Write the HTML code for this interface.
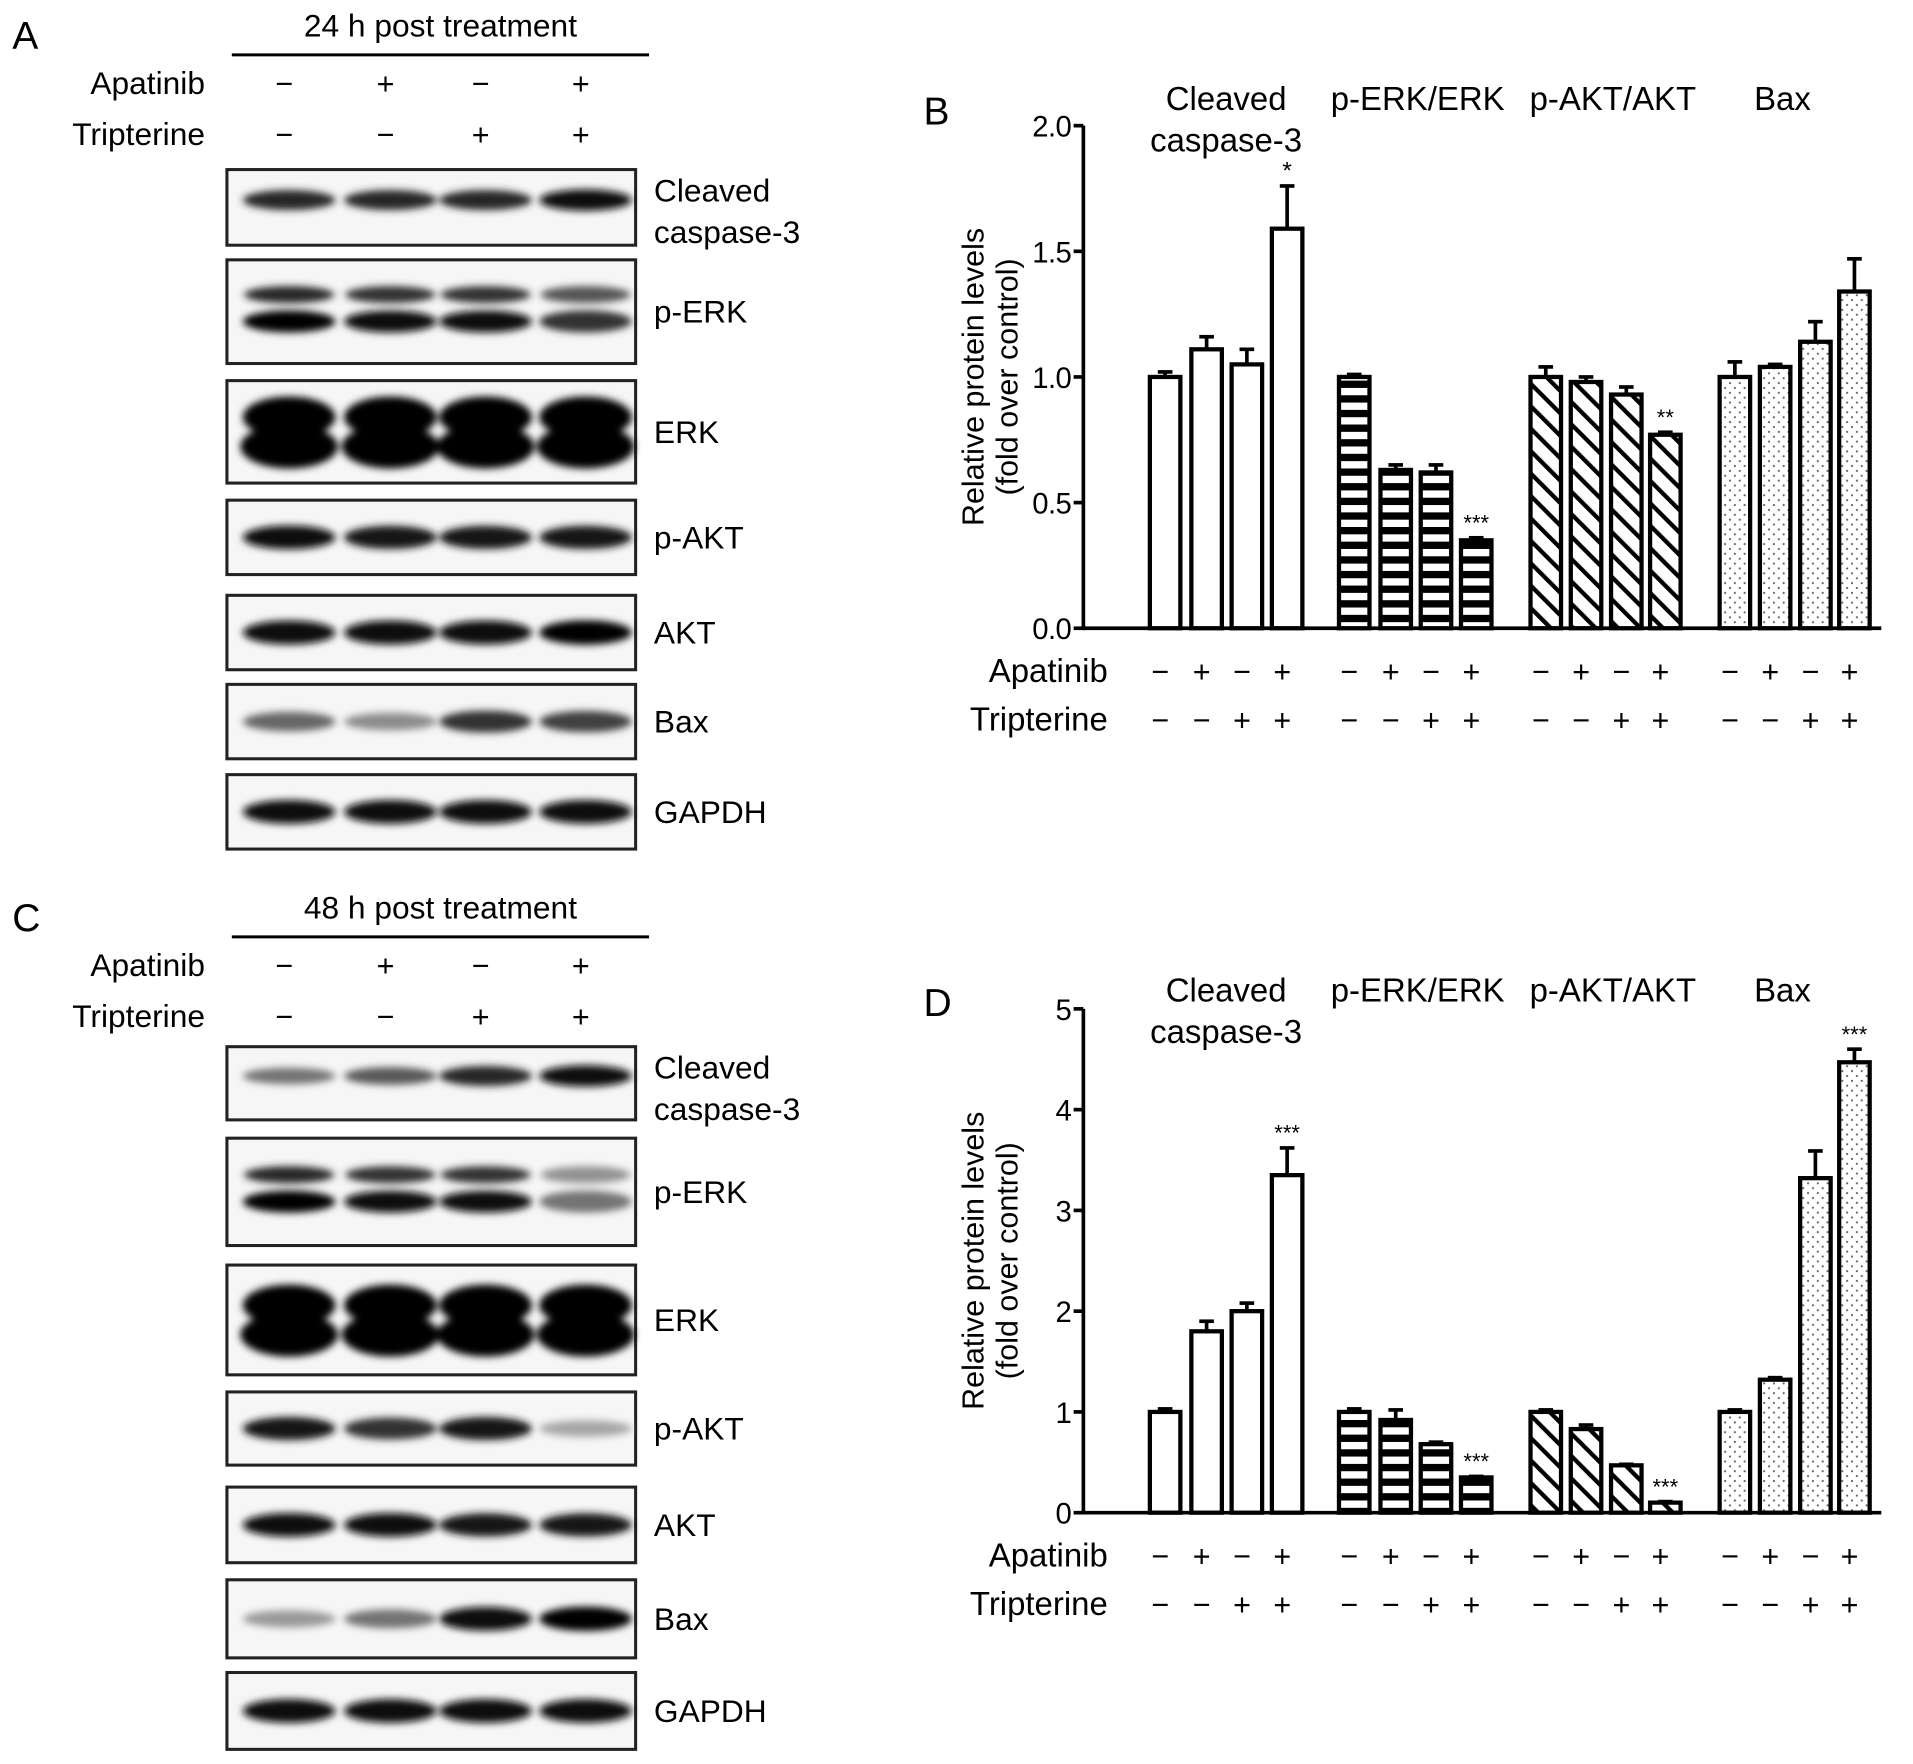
<!DOCTYPE html>
<html><head><meta charset="utf-8"><style>
html,body{margin:0;padding:0;background:#fff;}
svg{display:block;font-family:"Liberation Sans",sans-serif;}
</style></head><body>
<svg id="fig" width="1913" height="1764" viewBox="0 0 1568 1446" preserveAspectRatio="none" xmlns="http://www.w3.org/2000/svg">
<defs>
<filter id="blur" x="-20%" y="-50%" width="140%" height="200%"><feGaussianBlur stdDeviation="3"/></filter>
<pattern id="pStripe" patternUnits="userSpaceOnUse" width="10" height="12"><rect width="10" height="12" fill="#fff"/><rect y="0" width="10" height="6" fill="#000"/></pattern>
<pattern id="pDiag" patternUnits="userSpaceOnUse" width="13" height="13" patternTransform="rotate(-45)"><rect width="13" height="13" fill="#fff"/><rect x="0" width="3.5" height="13" fill="#000"/></pattern>
<pattern id="pDot" patternUnits="userSpaceOnUse" width="8" height="8"><rect width="8" height="8" fill="#fff"/><circle cx="2" cy="2" r="0.9" fill="#666"/><circle cx="6" cy="6" r="0.9" fill="#666"/></pattern>
</defs>
<g id="blots"></g>
<g id="charts"></g>
</svg>
<script>
// ---------- Chart data ----------
const groups = ["Cleaved caspase-3","p-ERK/ERK","p-AKT/AKT","Bax"];
const apatinib = ["−","+","−","+"];
const tripterine = ["−","−","+","+"];
const valuesB = [[1.0,1.11,1.05,1.59],[1.0,0.63,0.62,0.35],[1.0,0.98,0.93,0.77],[1.0,1.04,1.14,1.34]];
const errorsB = [[0.02,0.05,0.06,0.17],[0.01,0.02,0.03,0.01],[0.04,0.02,0.03,0.01],[0.06,0.01,0.08,0.13]];
const starsB = [["","","","*"],["","","","***"],["","","","**"],["","","",""]];
const ticksB = [0,0.5,1.0,1.5,2.0];
const tickLabelsB = ["0.0","0.5","1.0","1.5","2.0"];
const valuesD = [[1.0,1.8,2.0,3.35],[1.0,0.92,0.68,0.35],[1.0,0.83,0.47,0.1],[1.0,1.32,3.32,4.47]];
const errorsD = [[0.03,0.1,0.08,0.27],[0.03,0.1,0.02,0.01],[0.02,0.04,0.01,0.01],[0.02,0.02,0.27,0.13]];
const starsD = [["","","","***"],["","","","***"],["","","","***"],["","","","***"]];
const ticksD = [0,1,2,3,4,5];
const tickLabelsD = ["0","1","2","3","4","5"];
const blotRows = ["Cleaved caspase-3","p-ERK","ERK","p-AKT","AKT","Bax","GAPDH"];
const intensA = [[0.85,0.85,0.85,0.95],[0.9,0.85,0.85,0.7],[1,1,1,1],[0.95,0.9,0.9,0.9],[0.97,0.97,0.97,1],[0.6,0.45,0.8,0.75],[0.95,0.95,0.95,0.95]];
const intensC = [[0.55,0.65,0.85,0.95],[0.9,0.85,0.85,0.45],[1,1,1,1],[0.9,0.8,0.9,0.35],[0.95,0.95,0.9,0.9],[0.4,0.55,0.95,1],[0.95,0.95,0.95,0.95]];

const NS="http://www.w3.org/2000/svg";
function mk(tag,attrs,parent,text){const e=document.createElementNS(NS,tag);for(const k in attrs)e.setAttribute(k,attrs[k]);if(text!==undefined)e.textContent=text;parent.appendChild(e);return e;}
function grayOf(v){const g=Math.round(255*(1-Math.min(1,v)));return `rgb(${g},${g},${g})`;}

const blots=document.getElementById('blots');
const charts=document.getElementById('charts');
const laneX=[237,320,398,480];
function blotPanel(letter,title,oy,rows,intens){
  const g=mk('g',{},blots);
  
  
  const L=mk('text',{x:10,y:oy+40,'font-size':32},g,letter);
  
  
  const t=mk('text',{x:361,y:oy+30,'font-size':26,'text-anchor':'middle'},g,title);
  
  
  mk('line',{x1:190,x2:532,y1:oy+45,y2:oy+45,stroke:'#000','stroke-width':2.5},g);
  const a=mk('text',{x:168,y:oy+77,'font-size':26,'text-anchor':'end'},g,'Apatinib');
  
  const tr=mk('text',{x:168,y:oy+119,'font-size':26,'text-anchor':'end'},g,'Tripterine');
  
  for(let i=0;i<4;i++){
    mk('text',{x:laneX[i]-4,y:oy+77,'font-size':25,'text-anchor':'middle'},g,apatinib[i]);
    mk('text',{x:laneX[i]-4,y:oy+119,'font-size':25,'text-anchor':'middle'},g,tripterine[i]);
  }
  rows.forEach((r,ri)=>{
    const [top,bot]=r;const cy=(top+bot)/2;
    const box=mk('g',{},g);
    
    
    mk('rect',{x:186,y:top,width:335,height:bot-top,fill:'#f6f6f6',stroke:'#222','stroke-width':2.5},box);
    const bg=mk('g',{filter:'url(#blur)'},box);
    for(let i=0;i<4;i++){
      const v=intens[ri][i];
      if(blotRows[ri]==='p-ERK'){
        mk('ellipse',{cx:laneX[i],cy:cy-14,rx:37,ry:7,fill:grayOf(v*0.95)},bg);
        mk('ellipse',{cx:laneX[i],cy:cy+8,rx:38,ry:9,fill:grayOf(Math.min(1,v+0.1))},bg);
      } else if(blotRows[ri]==='ERK'){
        mk('ellipse',{cx:laneX[i],cy:cy-12,rx:38,ry:17,fill:'#000'},bg);
        mk('ellipse',{cx:laneX[i],cy:cy+12,rx:40,ry:18,fill:'#000'},bg);
      } else {
        mk('ellipse',{cx:laneX[i],cy:cy-(ri===0?6:0),rx:38,ry:(ri===0?4:5)+5*v,fill:grayOf(v)},bg);
      }
    }
    const lines=blotRows[ri]==='Cleaved caspase-3'?['Cleaved','caspase-3']:[blotRows[ri]];
    lines.forEach((ln,li)=>{
      const ty=lines.length===2?top+26+li*34:cy+9;
      mk('text',{x:536,y:ty,'font-size':26},box,ln);
    });
  });
}
blotPanel('A','24 h post treatment',0,[[139,201],[213,298],[312,396],[410,471],[488,549],[561,622],[635,696]],intensA);
blotPanel('C','48 h post treatment',723,[[858,918],[933,1021],[1037,1127],[1141,1201],[1219,1281],[1295,1359],[1371,1434]],intensC);

const centers=[[955,989,1022,1055],[1110,1144,1177,1210],[1267,1300,1333,1365],[1422,1455,1488,1520]];
const fills=['#fff','url(#pStripe)','url(#pDiag)','url(#pDot)'];
const gnames=['cleaved-caspase-3','p-erk','p-akt','bax'];
function barChart(letter,vals,errs,stars,ticks,tickLabels,y0,yTop,ymax,oy){
  const g=mk('g',{},charts);
  
  
  const yS=v=>y0-(v/ymax)*(y0-yTop);
  const L=mk('text',{x:757,y:oy+102,'font-size':32},g,letter);
  
  
  const tp=[[1005,'Cleaved','caspase-3'],[1162,'p-ERK/ERK'],[1322,'p-AKT/AKT'],[1461,'Bax']];
  tp.forEach((t,i)=>{
    const tt=mk('text',{x:t[0],y:oy+90,'font-size':27,'text-anchor':'middle'},g,t[1]);
    
    if(t[2]){mk('text',{x:t[0],y:oy+124,'font-size':27,'text-anchor':'middle'},g,t[2]);}
  });
  const ya=mk('g',{},g);
  
  mk('line',{x1:888,x2:888,y1:yTop,y2:y0+1.5,stroke:'#000','stroke-width':3},ya);
  ticks.forEach((t,i)=>{
    mk('line',{x1:880,x2:888,y1:yS(t),y2:yS(t),stroke:'#000','stroke-width':3},ya);
    mk('text',{x:878,y:yS(t)+9,'font-size':24,'letter-spacing':-0.5,'text-anchor':'end'},ya,tickLabels[i]);
  });
  const yt=mk('text',{transform:`translate(806,${(y0+yTop)/2}) rotate(-90)`,'font-size':25,'text-anchor':'middle'},g,'Relative protein levels');
  
  mk('text',{transform:`translate(834,${(y0+yTop)/2}) rotate(-90)`,'font-size':25,'text-anchor':'middle'},g,'(fold over control)');
  const bw=25;
  vals.forEach((gv,gi)=>{
    gv.forEach((v,bi)=>{
      const cx=centers[gi][bi];const yv=yS(v);const ye=yS(v+errs[gi][bi]);
      const b=mk('g',{},g);
      
      
      mk('line',{x1:cx,x2:cx,y1:ye,y2:yv,stroke:'#000','stroke-width':3},b);
      mk('line',{x1:cx-6,x2:cx+6,y1:ye,y2:ye,stroke:'#000','stroke-width':3},b);
      mk('rect',{x:cx-bw/2,y:yv,width:bw,height:y0-yv,fill:fills[gi],stroke:'#000','stroke-width':3.5},b);
      if(stars[gi][bi]){mk('text',{x:cx,y:ye-6,'font-size':stars[gi][bi].length>1?18:20,'text-anchor':'middle'},b,stars[gi][bi]);}
    });
  });
  const xa=mk('line',{x1:888,x2:1542,y1:y0,y2:y0,stroke:'#000','stroke-width':3},g);
  
  const a=mk('text',{x:908,y:y0+44,'font-size':27,'text-anchor':'end'},g,'Apatinib');
  
  const tr=mk('text',{x:908,y:y0+84,'font-size':27,'text-anchor':'end'},g,'Tripterine');
  
  centers.forEach(gc=>gc.forEach((cx,bi)=>{
    mk('text',{x:cx-4,y:y0+44,'font-size':25,'text-anchor':'middle'},g,apatinib[bi]);
    mk('text',{x:cx-4,y:y0+84,'font-size':25,'text-anchor':'middle'},g,tripterine[bi]);
  }));
}
barChart('B',valuesB,errorsB,starsB,ticksB,tickLabelsB,515,103,2.0,0);
barChart('D',valuesD,errorsD,starsD,ticksD,tickLabelsD,1240,827,5,731);
</script>
</body></html>
